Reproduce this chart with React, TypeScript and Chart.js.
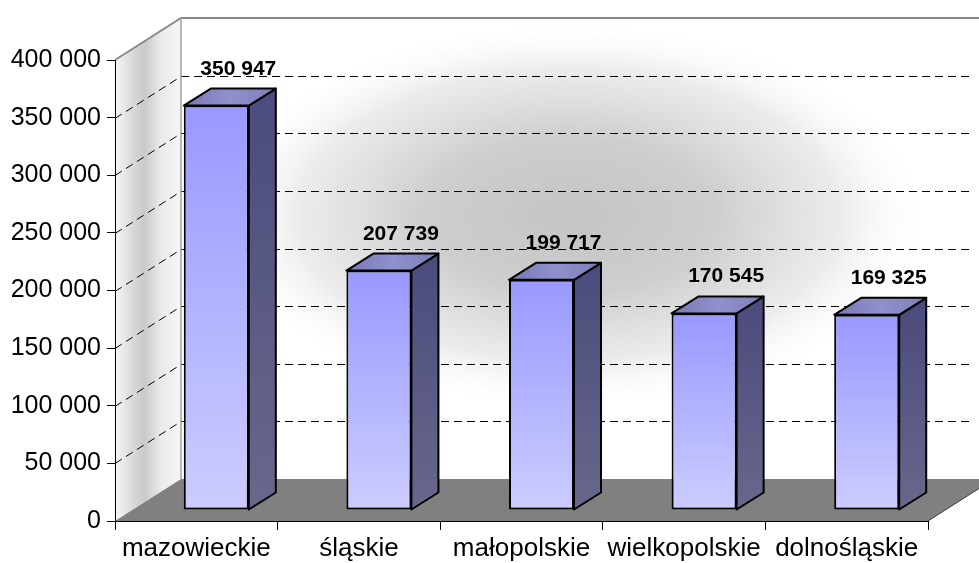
import React, { useEffect, useRef } from "react";
import { Chart, registerables } from "chart.js";

Chart.register(...registerables);

const categories = ["mazowieckie", "śląskie", "małopolskie", "wielkopolskie", "dolnośląskie"];
const values = [350947, 207739, 199717, 170545, 169325];
const yMin = 0;
const yMax = 400000;
const yStep = 50000;

const FONT = "'Liberation Sans', Arial, sans-serif";
// 3D projection constants (style)
const WALL_DX = 66;
const WALL_DY = -42;
const BAR_SHIFT_X = 20;
const BAR_SHIFT_Y = -11;
const BAR_DX = 27;
const BAR_DY = -17;

const fmt = (v: number) => String(v).replace(/\B(?=(\d{3})+(?!\d))/g, " ");

const wallsPlugin = {
  id: "walls3d",
  beforeDraw(chart: any) {
    const { ctx, chartArea, scales } = chart;
    const y = scales.y;
    const L = chartArea.left, R = chartArea.right, B = chartArea.bottom, T = chartArea.top;
    const W = chart.width;
    ctx.save();
    ctx.fillStyle = "#ffffff";
    ctx.fillRect(0, 0, chart.width, chart.height);

    const bx = L + WALL_DX;
    const bt = T + WALL_DY;
    const bb = B + WALL_DY;

    // back wall
    ctx.save();
    ctx.beginPath();
    ctx.rect(bx, bt, W - bx, bb - bt);
    ctx.clip();
    ctx.fillStyle = "#ffffff";
    ctx.fillRect(bx, bt, W - bx, bb - bt);
    ctx.translate(570, 215);
    ctx.scale(1.85, 1);
    const rg = ctx.createRadialGradient(0, 0, 0, 0, 0, 195);
    rg.addColorStop(0, "rgba(196,196,196,1)");
    rg.addColorStop(0.4, "rgba(206,206,206,1)");
    rg.addColorStop(0.75, "rgba(232,232,232,0.85)");
    rg.addColorStop(1, "rgba(255,255,255,0)");
    ctx.fillStyle = rg;
    ctx.fillRect(-400, -300, 800, 600);
    ctx.restore();

    // left wall
    ctx.beginPath();
    ctx.moveTo(L, T);
    ctx.lineTo(bx, bt);
    ctx.lineTo(bx, bb);
    ctx.lineTo(L, B);
    ctx.closePath();
    const lg = ctx.createLinearGradient(L, 0, bx, 0);
    lg.addColorStop(0, "#f7f7f7");
    lg.addColorStop(0.3, "#d6d6d6");
    lg.addColorStop(0.45, "#cacaca");
    lg.addColorStop(0.7, "#eaeaea");
    lg.addColorStop(1, "#f6f6f6");
    ctx.fillStyle = lg;
    ctx.fill();

    // floor
    ctx.beginPath();
    ctx.moveTo(L, B);
    ctx.lineTo(bx, bb);
    ctx.lineTo(R + WALL_DX, bb);
    ctx.lineTo(R, B);
    ctx.closePath();
    ctx.fillStyle = "#808080";
    ctx.fill();
    ctx.strokeStyle = "#3a3a3a";
    ctx.lineWidth = 1;
    ctx.beginPath();
    ctx.moveTo(R, B);
    ctx.lineTo(R + WALL_DX, bb);
    ctx.stroke();

    // gridlines
    ctx.strokeStyle = "#000";
    ctx.lineWidth = 1;
    ctx.setLineDash([8, 5]);
    for (let v = yMin + yStep; v < yMax; v += yStep) {
      const py = Math.round(y.getPixelForValue(v)) + 0.5;
      ctx.beginPath();
      ctx.moveTo(L, py);
      ctx.lineTo(bx, py + WALL_DY);
      ctx.stroke();
      ctx.beginPath();
      ctx.moveTo(bx, py + WALL_DY);
      ctx.lineTo(W - 6, py + WALL_DY);
      ctx.stroke();
    }
    ctx.setLineDash([]);

    // wall edges
    ctx.strokeStyle = "#8a8a8a";
    ctx.lineWidth = 2;
    ctx.beginPath();
    ctx.moveTo(L, T);
    ctx.lineTo(bx, bt);
    ctx.lineTo(W, bt);
    ctx.stroke();
    ctx.lineWidth = 1.5;
    ctx.strokeStyle = "#a0a0a0";
    ctx.beginPath();
    ctx.moveTo(bx, bt);
    ctx.lineTo(bx, bb);
    ctx.stroke();
    ctx.restore();
  },
  beforeDatasetsDraw(chart: any) {
    chart.ctx.save();
    chart.ctx.translate(BAR_SHIFT_X, BAR_SHIFT_Y);
  },
  afterDatasetsDraw(chart: any) {
    const ctx = chart.ctx;
    ctx.restore();
    const meta = chart.getDatasetMeta(0);
    meta.data.forEach((bar: any, i: number) => {
      const w = bar.width;
      const xl = bar.x - w / 2 + BAR_SHIFT_X;
      const xr = bar.x + w / 2 + BAR_SHIFT_X;
      const yt = bar.y + BAR_SHIFT_Y;
      const yb = bar.base + BAR_SHIFT_Y;
      ctx.save();
      ctx.lineWidth = 2;
      ctx.lineJoin = "round";
      ctx.strokeStyle = "#000";
      // side
      const sg = ctx.createLinearGradient(0, yt, 0, yb);
      sg.addColorStop(0, "#4c4c7e");
      sg.addColorStop(1, "#68688c");
      ctx.fillStyle = sg;
      ctx.beginPath();
      ctx.moveTo(xr, yt);
      ctx.lineTo(xr + BAR_DX, yt + BAR_DY);
      ctx.lineTo(xr + BAR_DX, yb + BAR_DY);
      ctx.lineTo(xr, yb);
      ctx.closePath();
      ctx.fill();
      ctx.stroke();
      // top
      const tg = ctx.createLinearGradient(xl, yt, xr + BAR_DX, yt + BAR_DY);
      tg.addColorStop(0, "#7777b6");
      tg.addColorStop(0.5, "#9090cc");
      tg.addColorStop(1, "#7e7ebc");
      ctx.fillStyle = tg;
      ctx.beginPath();
      ctx.moveTo(xl, yt);
      ctx.lineTo(xl + BAR_DX, yt + BAR_DY);
      ctx.lineTo(xr + BAR_DX, yt + BAR_DY);
      ctx.lineTo(xr, yt);
      ctx.closePath();
      ctx.fill();
      ctx.stroke();
      // label
      ctx.fillStyle = "#000";
      ctx.font = `bold 21px ${FONT}`;
      ctx.textAlign = "center";
      ctx.textBaseline = "alphabetic";
      ctx.fillText(fmt(values[i]), bar.x + BAR_SHIFT_X + 22, yt + BAR_DY - 14);
      ctx.restore();
    });
  },
};

export default function App() {
  const ref = useRef<HTMLCanvasElement | null>(null);
  useEffect(() => {
    if (!ref.current) return;
    const chart = new Chart(ref.current, {
      type: "bar",
      data: {
        labels: categories,
        datasets: [
          {
            data: values,
            backgroundColor: (c: any) => {
              const ch = c.chart;
              if (!ch.chartArea || c.type !== "data") return "#aaaaff";
              const ys = ch.scales.y;
              const top = ys.getPixelForValue(c.parsed.y);
              const bot = ys.getPixelForValue(0);
              const g = ch.ctx.createLinearGradient(0, top, 0, bot);
              g.addColorStop(0, "#9999ff");
              g.addColorStop(1, "#ccccff");
              return g;
            },
            borderColor: "#000",
            borderWidth: 2,
            borderSkipped: false,
            barPercentage: 0.4,
            categoryPercentage: 1,
            clip: false as any,
          },
        ],
      },
      options: {
        responsive: false,
        animation: false,
        devicePixelRatio: 1,
        layout: { padding: { top: 60, right: 51, left: 0, bottom: 0 } },
        plugins: { legend: { display: false }, tooltip: { enabled: false }, title: { display: false } },
        scales: {
          x: {
            type: "category",
            grid: { display: true, drawOnChartArea: false, drawTicks: true, tickLength: 9, color: "#000", offset: true },
            border: { display: true, color: "#000", width: 1 },
            ticks: { font: { family: FONT, size: 26 }, color: "#000", padding: 3, maxRotation: 0, autoSkip: false },
            afterFit: (s: any) => { s.height = 42; },
          },
          y: {
            min: yMin,
            max: yMax,
            ticks: { stepSize: yStep, callback: (v: any) => fmt(Number(v)), font: { family: FONT, size: 25 }, color: "#000", padding: 6 },
            grid: { drawOnChartArea: false, drawTicks: true, tickLength: 8, color: "#000" },
            border: { display: true, color: "#000", width: 1 },
            afterFit: (s: any) => { s.width = 115; },
          },
        },
      },
      plugins: [wallsPlugin],
    });
    return () => chart.destroy();
  }, []);
  return (
    <div style={{ position: "fixed", left: 0, top: 0, width: 979, height: 563, background: "#fff" }}>
      <canvas ref={ref} width={979} height={563} style={{ width: 979, height: 563, display: "block" }} />
    </div>
  );
}
